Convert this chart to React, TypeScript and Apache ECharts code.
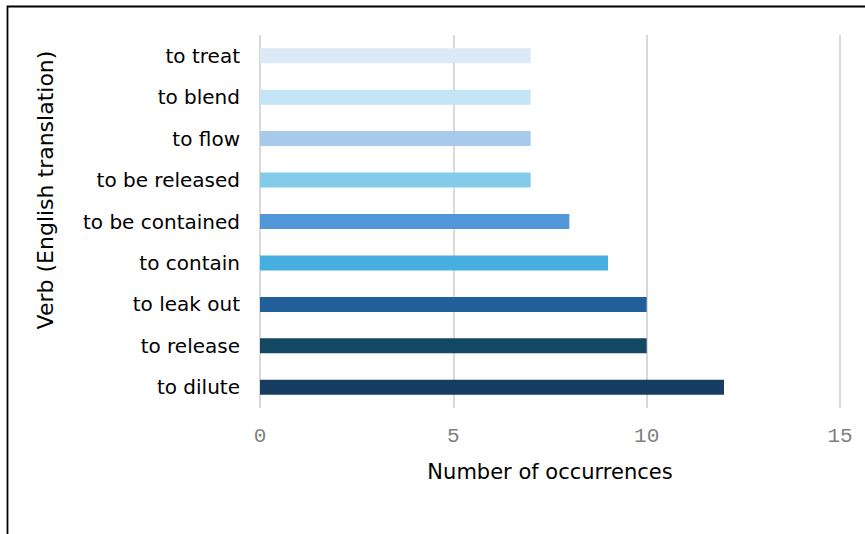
import React, { useEffect, useRef } from "react";
import * as echarts from "echarts";

// bottom to top
const categories = [
  "to dilute",
  "to release",
  "to leak out",
  "to contain",
  "to be contained",
  "to be released",
  "to flow",
  "to blend",
  "to treat",
];
const values = [12, 10, 10, 9, 8, 7, 7, 7, 7];
const barColors = [
  "#183d63",
  "#124861",
  "#215f9a",
  "#46afe0",
  "#5096d9",
  "#83cbea",
  "#a7c9ec",
  "#c3e5f5",
  "#dce9f6",
];
const xTicks = [0, 5, 10, 15];
const xTitle = "Number of occurrences";
const yTitle = "Verb (English translation)";

export default function App() {
  const ref = useRef<HTMLDivElement>(null);
  useEffect(() => {
    if (!ref.current) return;
    const chart = echarts.init(ref.current, undefined, { renderer: "svg" });
    chart.setOption({
      animation: false,
      backgroundColor: "#ffffff",
      grid: { left: 260, right: 25, top: 35, bottom: 126, containLabel: false },
      xAxis: {
        type: "value",
        min: xTicks[0],
        max: xTicks[xTicks.length - 1],
        interval: 5,
        axisLine: { show: false },
        axisTick: { show: false },
        splitLine: { show: true, lineStyle: { color: "#d9d9d9", width: 2 } },
        axisLabel: {
          margin: 18,
          color: "#7f7f7f",
          fontFamily: "Liberation Mono",
          fontSize: 21,
        },
        name: xTitle,
        nameLocation: "middle",
        nameGap: 53,
        nameTextStyle: { color: "#000", fontFamily: "DejaVu Sans", fontSize: 21 },
      },
      yAxis: {
        type: "category",
        data: categories,
        axisLine: { show: false },
        axisTick: { show: false },
        splitLine: { show: false },
        axisLabel: {
          margin: 20,
          color: "#000",
          fontFamily: "DejaVu Sans",
          fontSize: 20,
        },
      },
      series: [
        {
          type: "bar",
          barWidth: 15,
          data: values.map((v, i) => ({ value: v, itemStyle: { color: barColors[i] } })),
        },
      ],
      graphic: [
        {
          type: "text",
          x: 45,
          y: 190,
          rotation: Math.PI / 2,
          style: {
            text: yTitle,
            align: "center",
            verticalAlign: "middle",
            fontFamily: "DejaVu Sans",
            fontSize: 22,
            fill: "#000",
          },
        },
        {
          type: "rect",
          shape: { x: 7.5, y: 6.5, width: 1000, height: 1000 },
          style: { fill: "none", stroke: "#000", lineWidth: 1.8 },
          silent: true,
        },
      ],
    });
    return () => chart.dispose();
  }, []);
  return (
    <div
      ref={ref}
      style={{ position: "absolute", left: 0, top: 0, width: 865, height: 534 }}
    />
  );
}
